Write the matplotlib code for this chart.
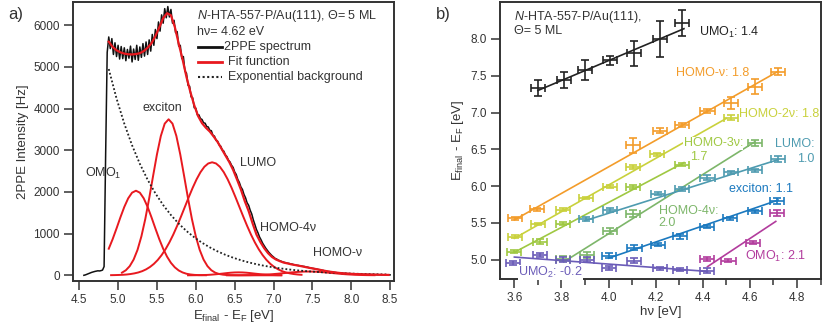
import numpy as np
import matplotlib
matplotlib.use('Agg')
import matplotlib.pyplot as plt
from matplotlib.ticker import MultipleLocator, FixedLocator

plt.rcParams['font.family'] = ['Liberation Sans', 'DejaVu Sans']
plt.rcParams['mathtext.fontset'] = 'custom'
plt.rcParams['mathtext.rm'] = 'Liberation Sans'
plt.rcParams['mathtext.it'] = 'Liberation Sans:italic'
plt.rcParams['mathtext.bf'] = 'Liberation Sans:bold'

# ---------------- panel a) data ----------------
spec_start, spec_step = 4.56, 0.02
spec_intensity = [
    0, 10, 25, 40, 55, 70, 82, 92, 100, 108,
    104, 112, 125, 210, 2900, 5350, 5720, 5440, 5680, 5300,
    5580, 5250, 5520, 5190, 5490, 5200, 5460, 5150, 5420, 5210,
    5500, 5120, 5430, 5180, 5520, 5160, 5480, 5230, 5560, 5260,
    5600, 5300, 5650, 5380, 5780, 5520, 5900, 5680, 6080, 5860,
    6250, 6050, 6400, 6180, 6450, 6200, 6380, 6050, 6120, 5820,
    5850, 5500, 5520, 5200, 5250, 4900, 4850, 4560, 4540, 4280,
    4260, 4020, 4010, 3850, 3850, 3760, 3740, 3660, 3650, 3570,
    3560, 3480, 3470, 3360, 3340, 3240, 3220, 3130, 3100, 3010,
    2980, 2890, 2850, 2760, 2720, 2640, 2590, 2480, 2420, 2300,
    2230, 2120, 2060, 1940, 1860, 1740, 1680, 1560, 1470, 1330,
    1220, 1100, 1020, 920, 850, 770, 710, 650, 600, 550,
    510, 470, 440, 405, 390, 365, 350, 335, 320, 310,
    300, 290, 285, 272, 268, 255, 250, 240, 236, 226,
    222, 214, 210, 198, 194, 182, 178, 166, 162, 150,
    146, 136, 132, 120, 116, 104, 100, 90, 88, 80,
    76, 70, 66, 60, 58, 52, 51, 46, 45, 41,
    40, 38, 37, 33, 33, 29, 29, 26, 26, 23,
    23, 22, 21, 20, 19, 18, 17, 16, 15, 14,
    13, 13, 12, 12, 11, 11, 10, 10,
]

fit_step = 0.05
fit_total_start = 4.88
fit_total = [
    5606, 5480, 5400, 5350, 5320, 5305, 5300, 5310, 5330, 5380,
    5460, 5570, 5740, 5950, 6170, 6290, 6240, 5960, 5560, 5180,
    4760, 4400, 4080, 3820, 3650, 3540, 3450, 3330, 3200, 3040,
    2880, 2720, 2530, 2300, 2060, 1780, 1540, 1250, 980, 800,
    650, 530, 440, 380, 340, 305, 285, 262, 245, 228,
    210, 190, 172, 155, 138, 118, 100, 85, 72, 60,
    50, 43, 37, 32, 28, 24, 21, 18, 16, 14,
    12, 10, 9,
]

omo1_start = 4.88
omo1_peak = [638, 867, 1124, 1391, 1641, 1847, 1983, 2030, 1983, 1847, 1641, 1391,
             1124, 867, 638, 447, 299, 191, 116, 68, 37, 20, 10, 5, 2, 1]
exciton_start = 5.05
exciton_peak = [63, 121, 220, 377, 610, 934, 1350, 1844, 2379, 2901, 3343, 3640, 3744,
                3640, 3343, 2901, 2379, 1844, 1350, 934, 610, 377, 220, 121, 63, 31,
                15, 6, 3, 1, 0, 0, 0, 0, 0, 0, 0, 0, 0, 0, 0, 0]
lumo_start = 4.91
lumo_peak = [3, 5, 8, 12, 19, 30, 46, 68, 99, 142, 199, 273, 367, 484, 624, 789, 977,
             1187, 1412, 1645, 1878, 2101, 2303, 2474, 2604, 2684, 2712, 2684, 2604,
             2474, 2303, 2101, 1878, 1645, 1412, 1187, 977, 789, 624, 484, 367, 273,
             199, 142, 99, 68, 46, 30, 19, 12]
homo4v_start = 5.90
homo4v_peak = [0, 1, 2, 3, 6, 9, 15, 23, 32, 42, 53, 62, 68, 70, 68, 62, 53, 42, 32,
               23, 15, 9, 6, 3, 2]
homov_start = 6.40
homov_peak = [0, 0, 1, 1, 2, 3, 4, 6, 9, 12, 17, 22, 29, 37, 46, 55, 64, 72, 79, 85,
              89, 90, 89, 85, 79, 72, 64, 55, 46, 37, 29, 22, 17, 12, 9, 6, 4, 3, 2]

bg_start, bg_step = 4.88, 0.1
background = [4950, 4244, 3639, 3120, 2675, 2294, 1967, 1686, 1446, 1240, 1063, 911,
              781, 670, 574, 492, 422, 362, 310, 266, 228, 196, 168, 144, 123, 106,
              91, 78, 67, 57, 49, 42, 36, 31, 26, 23, 19]

# ---------------- panel b) data ----------------
series_names = ['UMO1', 'HOMO-v', 'HOMO-2v', 'HOMO-3v', 'HOMO-4v', 'LUMO',
                'exciton', 'OMO1', 'UMO2']
series_colors = ['#222222', '#f39c2a', '#c9d13c', '#9fc842', '#7db66a', '#4e9bb0',
                 '#1b79bf', '#b23c9d', '#6b5cb8']

hv_UMO1 = [3.70, 3.81, 3.90, 4.005, 4.107, 4.22, 4.31]
E_UMO1 = [7.33, 7.443, 7.58, 7.71, 7.805, 8.00, 8.22]
err_UMO1 = [0.11, 0.11, 0.135, 0.06, 0.17, 0.24, 0.18]

hv_HOMOv = [3.603, 3.695, 4.105, 4.22, 4.31, 4.42, 4.52, 4.62, 4.72]
E_HOMOv = [5.565, 5.686, 6.555, 6.755, 6.83, 7.02, 7.13, 7.35, 7.555]
err_HOMOv = [0.02, 0.02, 0.10, 0.03, 0.03, 0.03, 0.08, 0.10, 0.05]

hv_HOMO2v = [3.603, 3.702, 3.808, 3.904, 4.006, 4.105, 4.204, 4.52]
E_HOMO2v = [5.31, 5.485, 5.676, 5.838, 5.99, 6.262, 6.435, 6.93]
err_HOMO2v = [0.02, 0.02, 0.02, 0.02, 0.02, 0.03, 0.02, 0.03]

hv_HOMO3v = [3.60, 3.71, 3.808, 4.105, 4.31]
E_HOMO3v = [5.11, 5.246, 5.49, 5.986, 6.29]
err_HOMO3v = [0.02, 0.03, 0.02, 0.03, 0.02]

hv_HOMO4v = [3.808, 3.907, 4.006, 4.105, 4.62]
E_HOMO4v = [5.015, 5.06, 5.39, 5.627, 6.59]
err_HOMO4v = [0.03, 0.04, 0.04, 0.05, 0.04]

hv_LUMO = [3.904, 4.006, 4.21, 4.31, 4.42, 4.52, 4.62, 4.72]
E_LUMO = [5.552, 5.676, 5.895, 5.96, 6.115, 6.185, 6.215, 6.365]
err_LUMO = [0.03, 0.03, 0.02, 0.03, 0.03, 0.02, 0.02, 0.04]

hv_exc = [4.00, 4.11, 4.211, 4.303, 4.417, 4.516, 4.622, 4.714]
E_exc = [5.055, 5.165, 5.20, 5.315, 5.449, 5.565, 5.655, 5.795]
err_exc = [0.03, 0.03, 0.02, 0.03, 0.02, 0.02, 0.02, 0.04]

hv_OMO1 = [4.417, 4.509, 4.615, 4.714]
E_OMO1 = [5.01, 4.985, 5.232, 5.63]
err_OMO1 = [0.03, 0.02, 0.02, 0.04]

hv_UMO2 = [3.596, 3.709, 3.808, 3.907, 4.00, 4.107, 4.22, 4.303, 4.417]
E_UMO2 = [4.951, 5.06, 5.00, 5.00, 4.883, 4.986, 4.883, 4.86, 4.85]
err_UMO2 = [0.03, 0.03, 0.03, 0.03, 0.03, 0.03, 0.02, 0.02, 0.03]

hv_err = 0.03

# linear fits: (hv start, hv end, E start, E end)
fit_lines = {
    'UMO1': (3.70, 4.32, 7.30, 8.14),
    'HOMO-v': (3.60, 4.72, 5.54, 7.56),
    'HOMO-2v': (3.60, 4.50, 5.29, 6.92),
    'HOMO-3v': (3.60, 4.32, 5.10, 6.32),
    'HOMO-4v': (3.81, 4.62, 4.97, 6.60),
    'LUMO': (3.90, 4.72, 5.53, 6.36),
    'exciton': (4.00, 4.72, 5.02, 5.81),
    'OMO1': (4.42, 4.71, 4.905, 5.52),
    'UMO2': (3.60, 4.42, 5.035, 4.84),
}

series_data = {
    'UMO1': (hv_UMO1, E_UMO1, err_UMO1),
    'HOMO-v': (hv_HOMOv, E_HOMOv, err_HOMOv),
    'HOMO-2v': (hv_HOMO2v, E_HOMO2v, err_HOMO2v),
    'HOMO-3v': (hv_HOMO3v, E_HOMO3v, err_HOMO3v),
    'HOMO-4v': (hv_HOMO4v, E_HOMO4v, err_HOMO4v),
    'LUMO': (hv_LUMO, E_LUMO, err_LUMO),
    'exciton': (hv_exc, E_exc, err_exc),
    'OMO1': (hv_OMO1, E_OMO1, err_OMO1),
    'UMO2': (hv_UMO2, E_UMO2, err_UMO2),
}

yticks_b = [5.0, 5.5, 6.0, 6.5, 7.0, 7.5, 8.0]

# ---------------- figure ----------------
fig = plt.figure(figsize=(8.24, 3.28), dpi=100)
axA = fig.add_axes([73 / 824, 47 / 328, 321 / 824, 279 / 328])
axB = fig.add_axes([500 / 824, 49 / 328, 321 / 824, 277 / 328])

spine_c = '#333333'
red = '#e8191f'
txt_c = '#333333'
tick_fs = 8.5

for ax in (axA, axB):
    for s in ax.spines.values():
        s.set_linewidth(1.4)
        s.set_color(spine_c)
    ax.tick_params(direction='out', length=6.5, width=1.1, color=spine_c,
                   labelsize=tick_fs, labelcolor=txt_c, pad=3)

# ---- panel a ----
def xs(start, step, n):
    return start + step * np.arange(n)

axA.plot(xs(spec_start, spec_step, len(spec_intensity)), spec_intensity,
         color='#111111', lw=1.1, zorder=3)
for st, vals in [(omo1_start, omo1_peak), (exciton_start, exciton_peak),
                 (lumo_start, lumo_peak), (homo4v_start, homo4v_peak),
                 (homov_start, homov_peak)]:
    axA.plot(xs(st, fit_step, len(vals)), vals, color=red, lw=1.4, zorder=4)
axA.plot(xs(fit_total_start, fit_step, len(fit_total)), fit_total, color=red,
         lw=1.6, zorder=5)
axA.plot(xs(bg_start, bg_step, len(background)), background, color='#222222',
         lw=1.3, ls=(0, (1, 1.2)), zorder=4)

axA.set_xlim(4.42, 8.55)
axA.set_ylim(-137, 6559)
axA.xaxis.set_major_locator(MultipleLocator(0.5))
axA.yaxis.set_major_locator(MultipleLocator(1000))
axA.xaxis.set_major_formatter(plt.FuncFormatter(lambda v, p: f'{v:.1f}'))
axA.set_xlabel(r'E$_{\mathrm{final}}$ - E$_{\mathrm{F}}$ [eV]', fontsize=9.5,
               color=txt_c, labelpad=1)
axA.set_ylabel('2PPE Intensity [Hz]', fontsize=9.5, color=txt_c, labelpad=3)

fs = 9.0
tA = axA.transAxes
axA.text(0.386, 0.950, r'$\mathit{N}$-HTA-557-P/Au(111), Θ= 5 ML', transform=tA,
         fontsize=fs, color=txt_c, va='center', ha='left')
axA.text(0.386, 0.892, 'hν= 4.62 eV', transform=tA, fontsize=fs, color=txt_c,
         va='center', ha='left')
axA.plot([0.389, 0.464], [0.839, 0.839], transform=tA, color='#111111', lw=2)
axA.text(0.470, 0.839, '2PPE spectrum', transform=tA, fontsize=fs, color=txt_c,
         va='center', ha='left')
axA.plot([0.389, 0.464], [0.785, 0.785], transform=tA, color=red, lw=2)
axA.text(0.483, 0.785, 'Fit function', transform=tA, fontsize=fs, color=txt_c,
         va='center', ha='left')
axA.plot([0.389, 0.464], [0.731, 0.731], transform=tA, color='#222222', lw=1.5,
         ls=(0, (1, 1.2)))
axA.text(0.483, 0.731, 'Exponential background', transform=tA, fontsize=fs,
         color=txt_c, va='center', ha='left')

axA.text(5.568, 4015, 'exciton', fontsize=fs, color=txt_c, ha='center', va='center')
axA.text(4.577, 2455, r'OMO$_1$', fontsize=fs, color=txt_c, ha='left', va='center')
axA.text(6.80, 2695, 'LUMO', fontsize=fs, color=txt_c, ha='center', va='center')
axA.text(7.19, 1135, 'HOMO-4ν', fontsize=fs, color=txt_c, ha='center', va='center')
axA.text(7.82, 535, 'HOMO-ν', fontsize=fs, color=txt_c, ha='center', va='center')

fig.text(8 / 824, 1 - 15 / 328, 'a)', fontsize=12, color=txt_c, ha='left', va='center')
fig.text(436 / 824, 1 - 15 / 328, 'b)', fontsize=12, color=txt_c, ha='left', va='center')

# ---- panel b ----
for name, col in zip(series_names, series_colors):
    x0, x1, y0, y1 = fit_lines[name]
    axB.plot([x0, x1], [y0, y1], color=col, lw=1.2, zorder=2)
    hv, E, er = series_data[name]
    axB.errorbar(hv, E, xerr=hv_err, yerr=er, fmt='none', ecolor=col,
                 elinewidth=1.2, capsize=2.6, capthick=1.2, zorder=3)

axB.set_xlim(3.539, 4.902)
axB.set_ylim(4.737, 8.503)
axB.xaxis.set_major_locator(MultipleLocator(0.2))
axB.xaxis.set_minor_locator(MultipleLocator(0.1))
axB.yaxis.set_major_locator(FixedLocator(yticks_b))
axB.tick_params(axis='x', which='minor', direction='out', length=4, width=1.1,
                color=spine_c)
axB.xaxis.set_major_formatter(plt.FuncFormatter(lambda v, p: f'{v:.1f}'))
axB.yaxis.set_major_formatter(plt.FuncFormatter(lambda v, p: f'{v:.1f}'))
axB.set_xlabel('hν [eV]', fontsize=9.5, color=txt_c, labelpad=1)
axB.set_ylabel(r'E$_{\mathrm{final}}$ - E$_{\mathrm{F}}$ [eV]', fontsize=9.5,
               color=txt_c, labelpad=3)

bb = dict(facecolor='white', edgecolor='none', pad=0.3)
axB.text(3.597, 8.294, r'$\mathit{N}$-HTA-557-P/Au(111),', fontsize=fs, color=txt_c,
         ha='left', va='center')
axB.text(3.597, 8.109, 'Θ= 5 ML', fontsize=fs, color=txt_c, ha='left', va='center')
c = dict(zip(series_names, series_colors))
axB.text(4.385, 8.09, r'UMO$_1$: 1.4', fontsize=fs, color=c['UMO1'], ha='left',
         va='center', bbox=bb)
axB.text(4.286, 7.543, 'HOMO-ν: 1.8', fontsize=fs, color=c['HOMO-v'], ha='left',
         va='center', bbox=bb)
axB.text(4.555, 6.976, 'HOMO-2ν: 1.8', fontsize=fs, color=c['HOMO-2v'], ha='left',
         va='center', bbox=bb)
axB.text(4.319, 6.582, 'HOMO-3ν:', fontsize=fs, color=c['HOMO-3v'], ha='left',
         va='center', bbox=bb)
axB.text(4.347, 6.40, '1.7', fontsize=fs, color=c['HOMO-3v'], ha='left',
         va='center', bbox=bb)
axB.text(4.708, 6.569, 'LUMO:', fontsize=fs, color=c['LUMO'], ha='left',
         va='center', bbox=bb)
axB.text(4.80, 6.37, '1.0', fontsize=fs, color=c['LUMO'], ha='left', va='center')
axB.text(4.51, 5.957, 'exciton: 1.1', fontsize=fs, color=c['exciton'], ha='left',
         va='center', bbox=bb)
axB.text(4.213, 5.663, 'HOMO-4ν:', fontsize=fs, color=c['HOMO-4v'], ha='left',
         va='center', bbox=bb)
axB.text(4.213, 5.496, '2.0', fontsize=fs, color=c['HOMO-4v'], ha='left',
         va='center', bbox=bb)
axB.text(4.58, 5.04, r'OMO$_1$: 2.1', fontsize=fs, color=c['OMO1'], ha='left',
         va='center', bbox=bb)
axB.text(3.616, 4.825, r'UMO$_2$: -0.2', fontsize=fs, color=c['UMO2'], ha='left',
         va='center', bbox=bb)

fig.savefig('out.png', dpi=100)
